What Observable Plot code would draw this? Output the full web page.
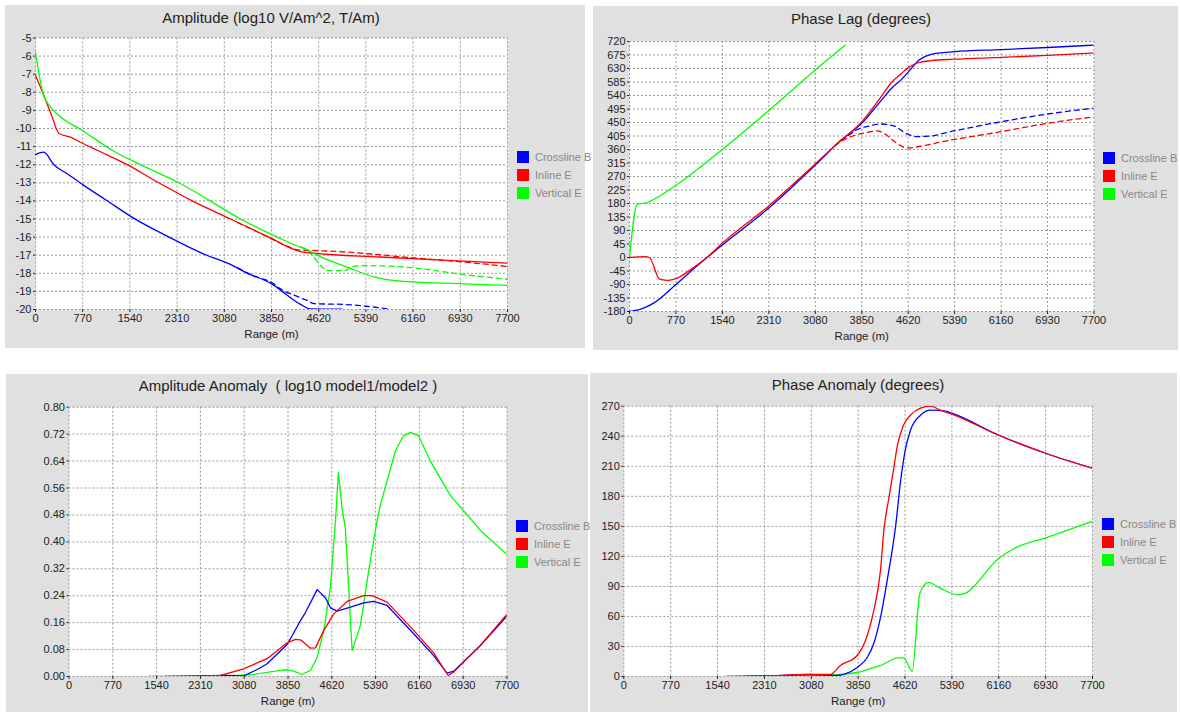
<!DOCTYPE html>
<html><head><meta charset="utf-8">
<script src="https://cdn.jsdelivr.net/npm/d3@7"></script>
<script src="https://cdn.jsdelivr.net/npm/@observablehq/plot@0.6"></script>
<style>
body{margin:0;background:#fff;font-family:"Liberation Sans",Arial,sans-serif;}
#root{position:relative;width:1180px;height:712px;overflow:hidden;}
.panel{position:absolute;background:#e0e0e0;}
.panel svg{position:absolute;left:0;top:0;}
.title{position:absolute;font-size:15px;line-height:18px;color:#222;white-space:pre;transform:translateX(-50%);}
.legend{position:absolute;font-size:11px;color:#888;}
.legend .row{position:absolute;left:0;display:flex;align-items:center;height:12px;white-space:nowrap;}
.legend .sw{width:12px;height:12px;margin-right:6px;display:inline-block;}
</style></head>
<body><div id="root"></div>
<script>
// ---- labels ----
const seriesNames = ["Crossline B", "Inline E", "Vertical E"];
const seriesColors = ["#0000ff", "#ff0000", "#00ff00"];
const xTicks = [0, 770, 1540, 2310, 3080, 3850, 4620, 5390, 6160, 6930, 7700];
const ampTicks = [-20, -19, -18, -17, -16, -15, -14, -13, -12, -11, -10, -9, -8, -7, -6, -5];
const phaseTicks = [-180, -135, -90, -45, 0, 45, 90, 135, 180, 225, 270, 315, 360, 405, 450, 495, 540, 585, 630, 675, 720];
const ampAnomTicks = [0.00, 0.08, 0.16, 0.24, 0.32, 0.40, 0.48, 0.56, 0.64, 0.72, 0.80];
const phaseAnomTicks = [0, 30, 60, 90, 120, 150, 180, 210, 240, 270];
const titles = ["Amplitude (log10 V/Am^2, T/Am)", "Phase Lag (degrees)", "Amplitude Anomaly  ( log10 model1/model2 )", "Phase Anomaly (degrees)"];
const xLabel = "Range (m)";

// ---- Amplitude (range m, log10) ----
const ampCrossSolid = [[0,-11.44],[135,-11.31],[300,-12.0],[517,-12.5],[770,-13.1],[1150,-13.95],[1600,-14.95],[2148,-15.95],[2719,-16.9],[3235,-17.6],[3426,-17.95],[3861,-18.6],[4024,-19.0],[4323,-19.72],[4486,-19.96],[5003,-19.98]];
const ampCrossDash = [[3300,-17.7],[3561,-18.15],[3861,-18.52],[3997,-18.86],[4250,-19.25],[4432,-19.5],[4550,-19.68],[5030,-19.72],[5400,-19.82],[5737,-19.96]];
const ampInlineSolid = [[0,-7.07],[125,-8.08],[272,-9.37],[380,-10.26],[571,-10.48],[734,-10.76],[1006,-11.2],[1496,-12.0],[2011,-13.0],[2556,-14.0],[3181,-15.0],[3806,-16.0],[4323,-16.8],[4540,-16.89],[5628,-17.1],[6716,-17.29],[7700,-17.44]];
const ampInlineDash = [[3300,-15.2],[3550,-15.6],[3806,-16.02],[4100,-16.5],[4323,-16.72],[4540,-16.74],[5084,-16.83],[6172,-17.15],[6987,-17.38],[7700,-17.62]];
const ampVertSolid = [[0,-5.82],[125,-8.08],[245,-8.82],[380,-9.28],[770,-10.12],[1251,-11.2],[1713,-12.0],[2338,-13.0],[2850,-14.0],[3344,-15.0],[3943,-16.0],[4323,-16.56],[4405,-16.65],[4595,-17.0],[5084,-17.66],[5520,-18.2],[6008,-18.45],[6987,-18.58],[7700,-18.67]];
const ampVertDash = [[4323,-16.56],[4405,-16.65],[4540,-17.1],[4677,-17.66],[4785,-17.85],[5050,-17.85],[5150,-17.65],[5356,-17.57],[6172,-17.7],[6987,-18.07],[7700,-18.33]];

// ---- Phase lag (degrees) ----
const phaseCrossSolid = [[0,-180],[200,-171],[400,-152],[770,-90],[1155,-22],[1540,42],[2310,165],[3080,308],[3500,390],[3850,447],[4150,518],[4350,565],[4500,592],[4620,618],[4800,658],[5000,677],[5390,686],[6160,693],[6930,700],[7700,708]];
const phaseCrossDash = [[3500,390],[3650,410],[3771,426],[3992,439],[4156,445],[4378,439],[4600,412],[4766,403],[5000,405],[5264,417],[6093,450],[6922,478],[7700,498]];
const phaseInlineSolid = [[0,0],[260,3],[330,0],[500,-72],[650,-76],[800,-68],[1000,-42],[1283,0],[1540,48],[2310,172],[3080,312],[3500,390],[3850,452],[4150,530],[4350,585],[4500,612],[4620,633],[4800,650],[5000,656],[5390,661],[6160,667],[6930,674],[7700,682]];
const phaseInlineDash = [[3400,372],[3550,392],[3700,405],[3937,417],[4103,422],[4250,410],[4378,389],[4500,372],[4627,365],[4800,370],[5264,389],[6093,417],[6922,447],[7700,469]];
const phaseVert = [[0,0],[130,178],[260,181],[500,205],[800,245],[1100,290],[1540,360],[2310,490],[3080,625],[3580,708]];

// ---- Amplitude anomaly ----
const anomAmpCross = [[1700,0],[2310,0.002],[2700,0.003],[3072,0.002],[3300,0.02],[3483,0.038],[3717,0.076],[3835,0.095],[3951,0.13],[4069,0.166],[4157,0.19],[4362,0.258],[4508,0.234],[4596,0.204],[4713,0.194],[4947,0.206],[5181,0.219],[5357,0.223],[5592,0.211],[6060,0.127],[6411,0.062],[6646,0.01],[6763,0.016],[7232,0.092],[7700,0.18]];
const anomAmpInline = [[1400,0],[2310,0.001],[2663,0.003],[3072,0.023],[3483,0.053],[3835,0.1],[3981,0.11],[4069,0.109],[4245,0.084],[4333,0.085],[4479,0.137],[4655,0.186],[4889,0.223],[5181,0.24],[5328,0.24],[5592,0.221],[6060,0.137],[6411,0.07],[6664,0.003],[6763,0.013],[7232,0.092],[7700,0.185]];
const anomAmpVert = [[2200,0],[2663,0],[3248,0.006],[3717,0.018],[3835,0.02],[3951,0.016],[4098,0.006],[4245,0.018],[4362,0.057],[4479,0.137],[4596,0.265],[4684,0.46],[4736,0.606],[4800,0.5],[4859,0.44],[4977,0.077],[5123,0.152],[5269,0.315],[5416,0.463],[5474,0.51],[5738,0.67],[5878,0.715],[6001,0.725],[6142,0.716],[6353,0.64],[6704,0.538],[7232,0.434],[7700,0.362]];

// ---- Phase anomaly ----
const anomPhaseCross = [[1671,0],[2310,0.5],[3067,2],[3506,1],[3614,2],[3834,9],[3999,19],[4107,33],[4217,59],[4327,96],[4467,151],[4549,196],[4620,225],[4710,246],[4874,261],[5038,266],[5284,265],[5390,263],[6160,241],[6930,223],[7700,208]];
const anomPhaseInline = [[2000,0],[2310,0.5],[3080,2],[3393,2],[3559,11],[3834,21],[3970,36],[4107,66],[4217,106],[4272,146],[4348,176],[4430,206],[4496,231],[4594,251],[4710,261],[4874,268],[5038,270],[5202,266],[5390,262],[6160,241],[6930,223],[7700,208]];
const anomPhaseVert = [[2300,0],[3080,1],[3559,2],[3834,4],[4107,9],[4217,11],[4380,16],[4491,18.7],[4600,18.7],[4738,5.3],[4863,83],[5001,94],[5200,88],[5504,81.6],[5641,84],[5750,90],[6134,116.6],[6407,127.6],[6956,139],[7700,155]];

const root = document.getElementById("root");
const FONT = "'Liberation Sans', Arial, sans-serif";

function lineMark(data, color, dashed, curve = "monotone-x") {
  return Plot.line(data, {x: d => d[0], y: d => d[1], stroke: color, strokeWidth: 1.3,
    curve, strokeDasharray: dashed ? "5,4" : null, clip: true});
}

function makePanel(cfg) {
  const div = document.createElement("div");
  div.className = "panel";
  Object.assign(div.style, {left: cfg.left + "px", top: cfg.top + "px", width: cfg.w + "px", height: cfg.h + "px"});
  const gridStyle = {stroke: "#999", strokeOpacity: 1, strokeWidth: 1, strokeDasharray: "2,2"};
  const svg = Plot.plot({
    width: cfg.w, height: cfg.h,
    marginLeft: cfg.ml, marginRight: cfg.mr, marginTop: cfg.mt, marginBottom: cfg.mb,
    style: {background: "transparent", fontFamily: FONT, fontSize: "11px", color: "#222", overflow: "visible"},
    x: {domain: [0, 7700]},
    y: {domain: cfg.yDomain},
    marks: [
      Plot.frame({fill: "white", stroke: "none"}),
      Plot.gridX(xTicks, gridStyle),
      Plot.gridY(cfg.yTicks, gridStyle),
      Plot.axisX(xTicks, {tickSize: 3, tickPadding: 2, label: null, tickFormat: d => String(d)}),
      Plot.axisY(cfg.yTicks, {tickSize: 2, tickPadding: 2, label: null, tickFormat: cfg.fmt}),
      Plot.text([xLabel], {frameAnchor: "bottom", dy: 28, fontSize: 11.5, fill: "#222"}),
      ...cfg.lines
    ]
  });
  div.appendChild(svg);
  const t = document.createElement("div");
  t.className = "title";
  t.textContent = cfg.title;
  t.style.left = cfg.titleX + "px";
  t.style.top = (cfg.titleY - 9) + "px";
  div.appendChild(t);
  const lg = document.createElement("div");
  lg.className = "legend";
  lg.style.left = cfg.legX + "px";
  lg.style.top = cfg.legY + "px";
  seriesNames.forEach((name, i) => {
    const row = document.createElement("div");
    row.className = "row";
    row.style.top = (i * 17.8) + "px";
    const sw = document.createElement("span");
    sw.className = "sw";
    sw.style.background = seriesColors[i];
    row.appendChild(sw);
    row.appendChild(document.createTextNode(name));
    lg.appendChild(row);
  });
  div.appendChild(lg);
  root.appendChild(div);
}

const [B, R, G] = seriesColors;
const intFmt = d => String(d);

makePanel({left: 5, top: 5, w: 580, h: 343, ml: 30, mr: 78, mt: 32.5, mb: 39,
  yDomain: [-20, -5], yTicks: ampTicks, fmt: intFmt, title: titles[0], titleX: 266, titleY: 13, legX: 512, legY: 146,
  lines: [lineMark(ampCrossDash, B, true), lineMark(ampInlineDash, R, true), lineMark(ampVertDash, G, true),
          lineMark(ampCrossSolid, B), lineMark(ampInlineSolid, R), lineMark(ampVertSolid, G)]});

makePanel({left: 593, top: 6, w: 585, h: 344, ml: 36, mr: 84.5, mt: 35, mb: 39,
  yDomain: [-180, 720], yTicks: phaseTicks, fmt: intFmt, title: titles[1], titleX: 268, titleY: 13, legX: 510, legY: 146,
  lines: [lineMark(phaseCrossDash, B, true), lineMark(phaseInlineDash, R, true),
          lineMark(phaseVert, G), lineMark(phaseCrossSolid, B), lineMark(phaseInlineSolid, R)]});

makePanel({left: 6, top: 374, w: 582, h: 338, ml: 62.5, mr: 81.5, mt: 32.7, mb: 36,
  yDomain: [0, 0.8], yTicks: ampAnomTicks, fmt: d => d.toFixed(2), title: titles[2], titleX: 282, titleY: 12, legX: 510, legY: 146,
  lines: [lineMark(anomAmpVert, G, false, "linear"), lineMark(anomAmpCross, B, false, "linear"), lineMark(anomAmpInline, R, false, "linear")]});

makePanel({left: 590, top: 373, w: 587, h: 339, ml: 33.3, mr: 85, mt: 32.7, mb: 36,
  yDomain: [0, 270], yTicks: phaseAnomTicks, fmt: intFmt, title: titles[3], titleX: 268, titleY: 12, legX: 512, legY: 145,
  lines: [lineMark(anomPhaseVert, G), lineMark(anomPhaseCross, B), lineMark(anomPhaseInline, R)]});
</script>
</body></html>
